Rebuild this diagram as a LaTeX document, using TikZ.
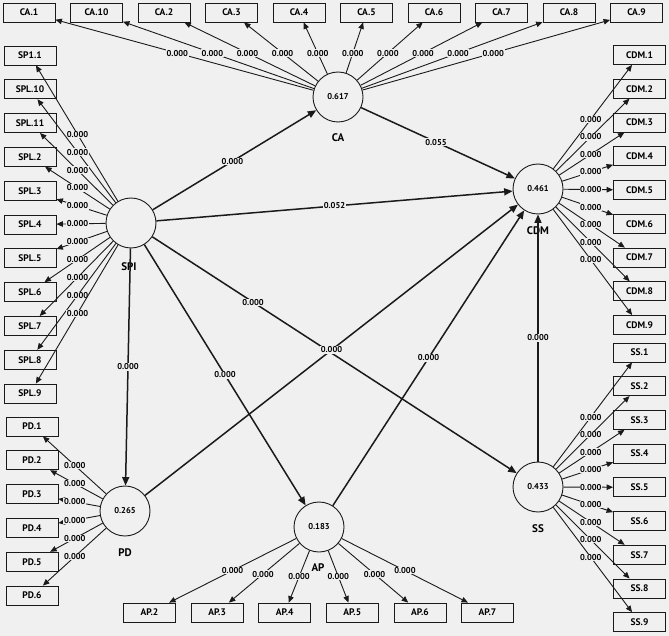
\documentclass[tikz,border=0pt]{standalone}
\usepackage{fontspec}
\setmainfont{PT Sans}
\usetikzlibrary{arrows.meta,calc}
\definecolor{bg}{HTML}{F0F0F0}
\definecolor{ink}{HTML}{1A1A1A}
\begin{document}
\begin{tikzpicture}[x=1pt,y=-1pt,
  lv/.style={circle,draw=ink,line width=0.9pt,fill=bg,minimum size=50pt,inner sep=0pt,font=\fontsize{8.5}{9}\selectfont\bfseries},
  lvlab/.style={font=\fontsize{11}{12}\selectfont\bfseries,inner sep=0pt},
  mv/.style={rectangle,draw=ink,line width=0.8pt,fill=bg,minimum width=52pt,minimum height=19pt,inner sep=0pt,font=\fontsize{9.5}{10}\selectfont\bfseries},
  ind/.style={draw=ink,line width=0.9pt,-{Triangle[length=6.5pt,width=5.5pt]}},
  str/.style={draw=ink,line width=1.5pt,-{Triangle[length=8.5pt,width=7pt]}},
  val/.style={fill=bg,inner sep=0.6pt,font=\fontsize{8.5}{9}\selectfont\bfseries}]
\fill[bg] (0,0) rectangle (669,636);
\useasboundingbox (0,0) rectangle (669,636);

% latent variables
\node[lv] (CA) at (338,97) {0.617};
\node[lvlab] (CAl) at (338,138) {CA};
\node[lv] (SPI) at (131,223) {};
\node[lvlab] (SPIl) at (129,267) {SPI};
\node[lv] (CDM) at (538,189) {0.461};
\node[lvlab] (CDMl) at (538,231) {CDM};
\node[lv] (PD) at (125,511) {0.265};
\node[lvlab] (PDl) at (125,553) {PD};
\node[lv] (AP) at (319,527) {0.183};
\node[lvlab] (APl) at (318,568) {AP};
\node[lv] (SS) at (538,487) {0.433};
\node[lvlab] (SSl) at (538,529) {SS};

% CA indicators
\foreach \t [count=\k] in {CA.1,CA.10,CA.2,CA.3,CA.4,CA.5,CA.6,CA.7,CA.8,CA.9}{
  \node[mv] (ca\k) at ({29+(\k-1)*67.5},12.5) {\t};
  \draw[ind] (CA) -- (ca\k);
  \node[val] at ($(CA)!0.52!(ca\k)$) {0.000};
}
% SPI indicators
\foreach \t [count=\k] in {SP1.1,SPL.10,SPL.11,SPL.2,SPL.3,SPL.4,SPL.5,SPL.6,SPL.7,SPL.8,SPL.9}{
  \node[mv] (spi\k) at (30,{55.5+(\k-1)*33.8}) {\t};
}
\foreach \k in {1,...,11}{
  \draw[ind] (SPI) -- (spi\k);
  \node[val] at ($(SPI)!0.53!(spi\k)$) {0.000};
}
% PD indicators
\foreach \t [count=\k] in {PD.1,PD.2,PD.3,PD.4,PD.5,PD.6}{
  \node[mv] (pd\k) at (32,{426.5+(\k-1)*33.8}) {\t};
  \draw[ind] (PD) -- (pd\k);
  \node[val] at ($(PD)!0.54!(pd\k)$) {0.000};
}
% CDM indicators
\foreach \t [count=\k] in {CDM.1,CDM.2,CDM.3,CDM.4,CDM.5,CDM.6,CDM.7,CDM.8,CDM.9}{
  \node[mv] (cdm\k) at (639.5,{55+(\k-1)*33.75}) {\t};
}
\foreach \k in {1,...,9}{
  \draw[ind] (CDM) -- (cdm\k);
  \node[val] at ($(CDM)!0.52!(cdm\k)$) {0.000};
}
% SS indicators
\foreach \t [count=\k] in {SS.1,SS.2,SS.3,SS.4,SS.5,SS.6,SS.7,SS.8,SS.9}{
  \node[mv] (ss\k) at (639.5,{352.5+(\k-1)*33.7}) {\t};
}
\foreach \k in {1,...,9}{
  \draw[ind] (SS) -- (ss\k);
  \node[val] at ($(SS)!0.52!(ss\k)$) {0.000};
}
% AP indicators
\foreach \t/\f [count=\k] in {AP.2/0.51,AP.3/0.55,AP.4/0.58,AP.5/0.58,AP.6/0.55,AP.7/0.51}{
  \node[mv] (ap\k) at ({149.5+(\k-1)*67.6},612.5) {\t};
  \draw[ind] (AP) -- (ap\k);
  \node[val] at ($(AP)!\f!(ap\k)$) {0.000};
}

% structural paths
\draw[str] (SPI) -- (CA);
\draw[str] (CA) -- (CDM);
\draw[str] (SPI) -- (CDM);
\draw[str] (SPI) -- (PD);
\draw[str] (SPI) -- (AP);
\draw[str] (SPI) -- (SS);
\draw[str] (PD) -- (CDM);
\draw[str] (AP) -- (CDM);
\draw[str] (SS) -- (CDM);
\node[val] at ($(SPI)!0.49!(CA)$) {0.000};
\node[val] at ($(CA)!0.49!(CDM)$) {0.055};
\node[val] at ($(SPI)!0.5!(CDM)$) {0.052};
\node[val] at ($(SPI)!0.5!(PD)$) {0.000};
\node[val] at ($(SPI)!0.5!(AP)$) {0.000};
\node[val] at ($(SPI)!0.3!(SS)$) {0.000};
\node[val] at ($(PD)!0.5!(CDM)$) {0.000};
\node[val] at ($(AP)!0.5!(CDM)$) {0.000};
\node[val] at ($(SS)!0.5!(CDM)$) {0.000};
\end{tikzpicture}
\end{document}
